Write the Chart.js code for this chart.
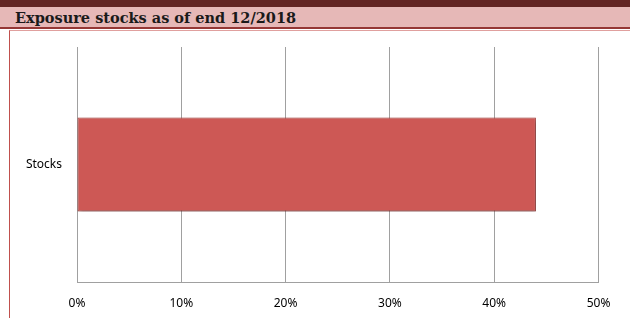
<!DOCTYPE html>
<html>
  <head>
    <title>Exposure stocks</title>
    <style>
      html, body{ margin: 0; padding: 0; background: #ffffff; width: 630px; height: 318px; overflow: hidden; }
      .topband{ position: absolute; left: 0; top: 0; width: 630px; height: 7px; background: #632523; }
      .header{ position: absolute; left: 0; top: 7px; width: 630px; height: 22px; background: #e6b8b7; border-bottom: 2px solid #953735; box-sizing: border-box; }
      .header h1{ margin: 0; padding-left: 15px; font-family: "DejaVu Serif", serif; font-weight: bold; font-size: 14.5px; line-height: 21px; color: #1a1a1a; }
      .box{ position: absolute; left: 9px; top: 30px; width: 621px; height: 288px; border-left: 1px solid #c0504d; border-top: 1px solid #e0a09e; box-sizing: border-box; }
      .wrap{ position: absolute; left: 10px; top: 31px; width: 620px; height: 287px; }
    </style>
    <script src="https://cdn.jsdelivr.net/npm/chart.js"></script>
  </head>
  <body>
    <div class="topband"></div>
    <div class="header"><h1>Exposure stocks as of end 12/2018</h1></div>
    <div class="box"></div>
    <div class="wrap"><canvas id="myChart" width="620" height="287"></canvas></div>

    <script>
      // Data
      const categories = ['Stocks'];
      const exposure = [44];
      const xTicks = [0, 10, 20, 30, 40, 50];

      // soft shadow under the bar, like the office bevel look
      const barShadow = {
        id: 'barShadow',
        beforeDatasetDraw(chart) {
          const c = chart.ctx;
          c.save();
          c.shadowColor = 'rgba(0,0,0,0.35)';
          c.shadowBlur = 4;
          c.shadowOffsetX = 1;
          c.shadowOffsetY = 2;
        },
        afterDatasetDraw(chart) {
          chart.ctx.restore();
        }
      };

      const ctx = document.getElementById('myChart').getContext('2d');
      const myChart = new Chart(ctx, {
        type: 'bar',
        data: {
          labels: categories,
          datasets: [{
            label: 'Exposure',
            data: exposure,
            backgroundColor: '#cd5855',
            borderColor: '#a8403d',
            borderWidth: 1,
            borderSkipped: false,
            barPercentage: 0.4,
            categoryPercentage: 1.0
          }]
        },
        plugins: [barShadow],
        options: {
          indexAxis: 'y',
          responsive: false,
          animation: false,
          layout: { padding: { top: 16, right: 31.5, left: 0, bottom: 0 } },
          plugins: {
            legend: { display: false },
            tooltip: { enabled: false }
          },
          scales: {
            x: {
              min: 0,
              max: 50,
              afterBuildTicks(axis) { axis.ticks = xTicks.map(v => ({ value: v })); },
              afterFit(axis) { axis.height = 36; axis.paddingLeft = 0; axis.paddingRight = 0; },
              ticks: {
                padding: 14,
                color: '#000000',
                font: { family: 'Noto Sans', size: 12 },
                callback: v => v + '%'
              },
              grid: { color: '#a0a0a0', lineWidth: 1, drawTicks: false },
              border: { display: true, color: '#a0a0a0' }
            },
            y: {
              afterFit(axis) { axis.width = 67; axis.paddingTop = 0; axis.paddingBottom = 0; },
              ticks: {
                padding: 15,
                color: '#000000',
                font: { family: 'Noto Sans', size: 12 }
              },
              grid: { display: false, drawTicks: false },
              border: { display: true, color: '#a0a0a0' }
            }
          }
        }
      });
    </script>
  </body>
</html>
